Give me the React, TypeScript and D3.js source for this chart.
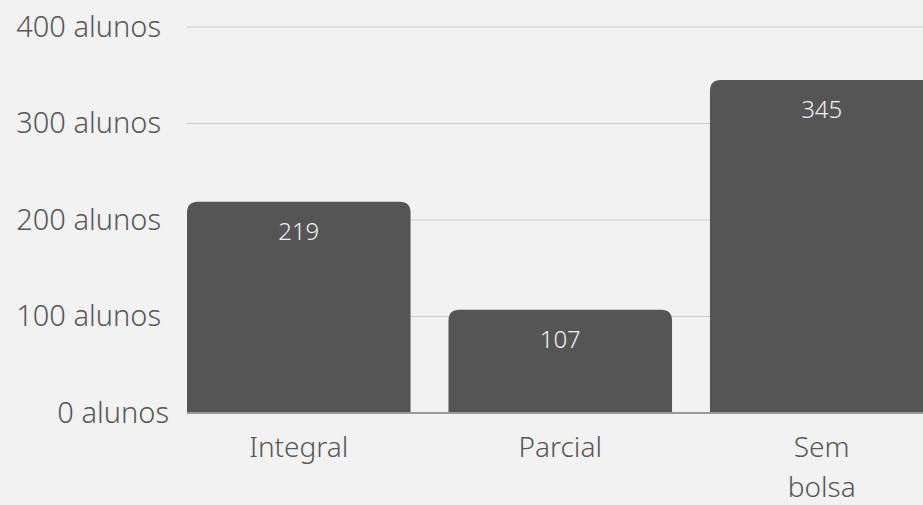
import React from "react";
import * as d3 from "d3";

const categories = ["Integral", "Parcial", "Sem bolsa"];
const categoryLines = [["Integral"], ["Parcial"], ["Sem", "bolsa"]];
const values = [219, 107, 345];
const yTicks = [0, 100, 200, 300, 400];
const yTickLabels = ["0 alunos", "100 alunos", "200 alunos", "300 alunos", "400 alunos"];

const W = 923;
const H = 505;
const FONT = "'Noto Sans', 'Open Sans', sans-serif";

function roundedTopPath(x: number, y: number, w: number, h: number, r: number) {
  const rr = Math.min(r, w / 2, h);
  return `M${x},${y + h}V${y + rr}Q${x},${y} ${x + rr},${y}H${x + w - rr}Q${x + w},${y} ${x + w},${y + rr}V${y + h}Z`;
}

export default function App() {
  const left = 187;
  const x = d3
    .scaleBand<string>()
    .domain(categories)
    .range([left, 933.5])
    .paddingInner(0.145)
    .paddingOuter(0);
  const y = d3.scaleLinear().domain([0, 400]).range([413, 27]);
  const bw = x.bandwidth();

  return (
    <svg
      width={W}
      height={H}
      style={{ position: "absolute", left: 0, top: 0, display: "block" }}
      fontFamily={FONT}
      fontWeight={300}
    >
      <rect x={0} y={0} width={W} height={H} fill="#f2f2f2" />
      {yTicks.map((t) =>
        t === 0 ? null : (
          <line key={"g" + t} x1={left} x2={W} y1={y(t)} y2={y(t)} stroke="#cccccc" strokeWidth={1.2} />
        )
      )}
      {yTicks.map((t, i) => (
        <text
          key={"yl" + t}
          x={t === 0 ? 169 : 161}
          y={y(t) + 2}
          textAnchor="end"
          dominantBaseline="middle"
          fontSize={29}
          fill="#575757"
        >
          {yTickLabels[i]}
        </text>
      ))}
      {categories.map((c, i) => {
        const bx = x(c)!;
        const by = y(values[i]);
        return (
          <g key={c}>
            <path d={roundedTopPath(bx, by, bw, y(0) - by, 11)} fill="#555555" />
            <text
              x={bx + bw / 2}
              y={by + 32}
              textAnchor="middle"
              dominantBaseline="middle"
              fontSize={24}
              fill="#f0f0f0"
            >
              {values[i]}
            </text>
            {categoryLines[i].map((ln, j) => (
              <text
                key={ln}
                x={bx + bw / 2}
                y={450 + j * 40}
                textAnchor="middle"
                dominantBaseline="middle"
                fontSize={28}
                fill="#575757"
              >
                {ln}
              </text>
            ))}
          </g>
        );
      })}
      <line x1={left} x2={W} y1={y(0)} y2={y(0)} stroke="#999999" strokeWidth={2} />
    </svg>
  );
}
